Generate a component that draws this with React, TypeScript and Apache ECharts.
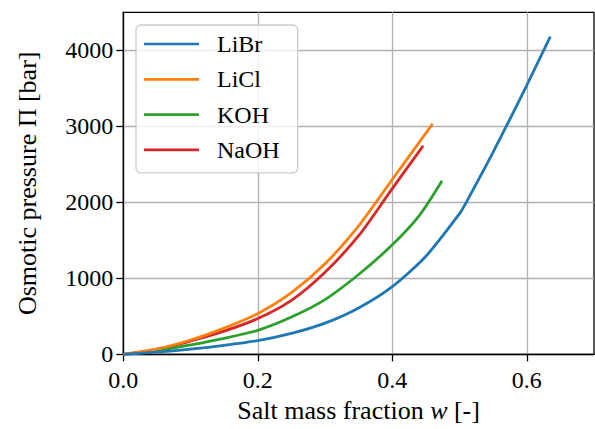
import React, { useEffect, useRef } from "react";
import * as echarts from "echarts";

const seriesNames = ["LiBr", "LiCl", "KOH", "NaOH"];
const colors = ["#1f77b4", "#ff7f0e", "#2ca02c", "#d62728"];

const libr: [number, number][] = [
  [0, 0], [0.05, 28], [0.1, 68], [0.15, 118], [0.2, 180], [0.25, 275],
  [0.3, 410], [0.35, 610], [0.4, 890], [0.45, 1290], [0.5, 1850],
  [0.51, 2000], [0.55, 2660], [0.6, 3540], [0.635, 4180],
];
const licl: [number, number][] = [
  [0, 0], [0.05, 70], [0.1, 188], [0.15, 345], [0.2, 535], [0.25, 810],
  [0.3, 1190], [0.35, 1690], [0.4, 2300], [0.46, 3034],
];
const koh: [number, number][] = [
  [0, 0], [0.05, 45], [0.1, 123], [0.15, 210], [0.2, 315], [0.25, 490],
  [0.3, 720], [0.35, 1050], [0.4, 1440], [0.441, 1835], [0.474, 2283],
];
const naoh: [number, number][] = [
  [0, 0], [0.05, 62], [0.1, 175], [0.15, 305], [0.2, 470], [0.25, 710],
  [0.3, 1080], [0.35, 1560], [0.4, 2180], [0.446, 2744],
];
const seriesData = [libr, licl, koh, naoh];

const xTicks = [0, 0.2, 0.4, 0.6];
const yTicks = [0, 1000, 2000, 3000, 4000];

const FONT = "'Liberation Serif', 'DejaVu Serif', serif";

export default function App() {
  const ref = useRef<HTMLDivElement>(null);
  useEffect(() => {
    if (!ref.current) return;
    const chart = echarts.init(ref.current, null, { renderer: "svg" });
    chart.setOption({
      animation: false,
      textStyle: { fontFamily: FONT },
      grid: {
        left: 123.3,
        right: 1,
        top: 12.3,
        bottom: 74.7,
        show: true,
        borderColor: "#000",
        borderWidth: 1.3,
        backgroundColor: "transparent",
      },
      legend: {
        orient: "vertical",
        left: 136,
        top: 25,
        data: seriesNames,
        icon: "rect",
        itemWidth: 55,
        itemHeight: 2.7,
        itemGap: 11.3,
        padding: [7, 18, 11, 8],
        backgroundColor: "rgba(255,255,255,0.8)",
        borderColor: "#cccccc",
        borderWidth: 1.3,
        borderRadius: 5,
        textStyle: {
          fontFamily: FONT,
          fontSize: 24,
          color: "#000",
          lineHeight: 24,
          padding: [0, 0, 0, 13],
        },
      },
      xAxis: {
        type: "value",
        min: 0,
        max: 0.7,
        interval: 0.2,
        name: "Salt mass fraction {i|w} [-]",
        nameLocation: "middle",
        nameGap: 42,
        nameTextStyle: {
          fontFamily: FONT,
          fontSize: 26,
          color: "#000",
          rich: { i: { fontFamily: FONT, fontSize: 26, fontStyle: "italic", color: "#000" } },
        },
        axisLine: { show: true, lineStyle: { color: "#000", width: 1.3 } },
        axisTick: { show: true, length: 7, lineStyle: { color: "#000", width: 1.3 }, customValues: xTicks },
        axisLabel: {
          color: "#000",
          fontSize: 24,
          fontFamily: FONT,
          margin: 14,
          customValues: xTicks,
          formatter: (v: number) => (Math.abs(v - 0.7) < 1e-9 ? "" : v.toFixed(1)),
        },
        splitLine: { show: true, lineStyle: { color: "#b0b0b0", width: 1.3 } },
      },
      yAxis: {
        type: "value",
        min: 0,
        max: 4500,
        interval: 1000,
        name: "Osmotic pressure Π [bar]",
        nameLocation: "middle",
        nameGap: 83,
        nameTextStyle: { fontFamily: FONT, fontSize: 26, color: "#000" },
        axisLine: { show: true, lineStyle: { color: "#000", width: 1.3 } },
        axisTick: { show: true, length: 7, lineStyle: { color: "#000", width: 1.3 }, customValues: yTicks },
        axisLabel: {
          color: "#000",
          fontSize: 24,
          fontFamily: FONT,
          margin: 10,
          customValues: yTicks,
          formatter: (v: number) => (v === 4500 ? "" : String(v)),
        },
        splitLine: { show: true, lineStyle: { color: "#b0b0b0", width: 1.3 } },
      },
      series: seriesNames.map((name, i) => ({
        name,
        type: "line",
        data: seriesData[i],
        showSymbol: false,
        symbol: "none",
        smooth: 0.25,
        lineStyle: { color: colors[i], width: 2.8 },
        itemStyle: { color: colors[i] },
        z: 3 + (seriesNames.length - i),
      })),
    });
    return () => chart.dispose();
  }, []);
  return <div ref={ref} style={{ width: 595, height: 429, position: "absolute", left: 0, top: 0 }} />;
}
